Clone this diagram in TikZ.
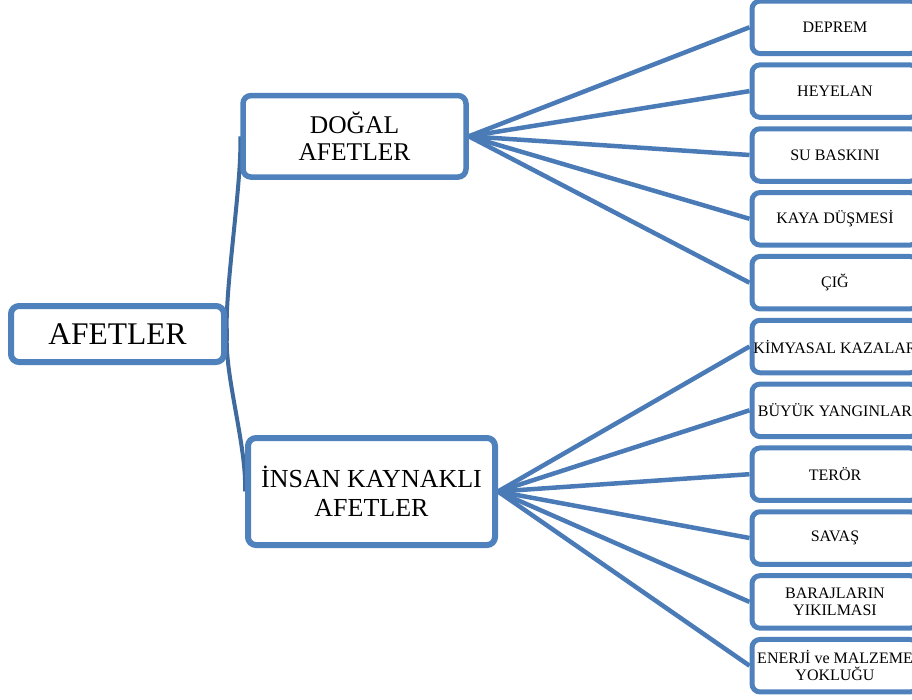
\documentclass[tikz,border=0pt]{standalone}
\usepackage{fontspec}
\setmainfont{Liberation Serif}
\usetikzlibrary{backgrounds}
\definecolor{boxblue}{HTML}{4F81BD}
\definecolor{linkblue}{HTML}{4A7BB7}
\definecolor{rootlink}{HTML}{3F6A9E}
\begin{document}
\begin{tikzpicture}[x=1pt,y=-1pt,
  box/.style={draw=boxblue, fill=white, rounded corners=8pt, inner sep=0pt, align=center, text=black},
  leaf/.style={box, line width=5pt, minimum width=166pt, minimum height=52.5pt, font=\fontsize{16}{17.3}\selectfont},
  link/.style={draw=linkblue, line width=4.5pt},
  rlink/.style={draw=rootlink, line width=4pt}]
\useasboundingbox (0,0) rectangle (912,699);

\node[box, line width=6pt, minimum width=213pt, minimum height=56pt, font=\fontsize{31.5}{34}\selectfont] (root) at (117.5,334) {AFETLER};
\node[box, line width=5.5pt, minimum width=223pt, minimum height=81.5pt, font=\fontsize{25.5}{27}\selectfont] (dogal) at (354.5,136.3) {DOĞAL\\AFETLER};
\node[box, line width=6pt, minimum width=247pt, minimum height=107pt, font=\fontsize{26}{28.5}\selectfont] (insan) at (371.5,491.5) {İNSAN KAYNAKLI\\AFETLER};

\node[leaf] (d1) at (835,27.3) {DEPREM};
\node[leaf] (d2) at (835,91.1) {HEYELAN};
\node[leaf] (d3) at (835,155.0) {SU BASKINI};
\node[leaf] (d4) at (835,218.8) {KAYA DÜŞMESİ};
\node[leaf] (d5) at (835,282.7) {ÇIĞ};
\node[leaf] (i1) at (835,346.5) {KİMYASAL KAZALAR};
\node[leaf] (i2) at (835,410.3) {BÜYÜK YANGINLAR};
\node[leaf] (i3) at (835,474.2) {TERÖR};
\node[leaf] (i4) at (835,538.0) {SAVAŞ};
\node[leaf] (i5) at (835,601.9) {BARAJLARIN\\YIKILMASI};
\node[leaf] (i6) at (835,665.7) {ENERJİ ve MALZEME\\YOKLUĞU};

\begin{scope}[on background layer]
  \draw[rlink] (root.east) .. controls +(-3,-40) and +(2,45) .. (dogal.west);
  \draw[rlink] (root.east) .. controls +(-3,40) and +(2,-45) .. (insan.west);
  \foreach \n in {d1,d2,d3,d4,d5} \draw[link] (dogal.east) -- (\n.west);
  \foreach \n in {i1,i2,i3,i4,i5,i6} \draw[link] (insan.east) -- (\n.west);
\end{scope}
\end{tikzpicture}
\end{document}
